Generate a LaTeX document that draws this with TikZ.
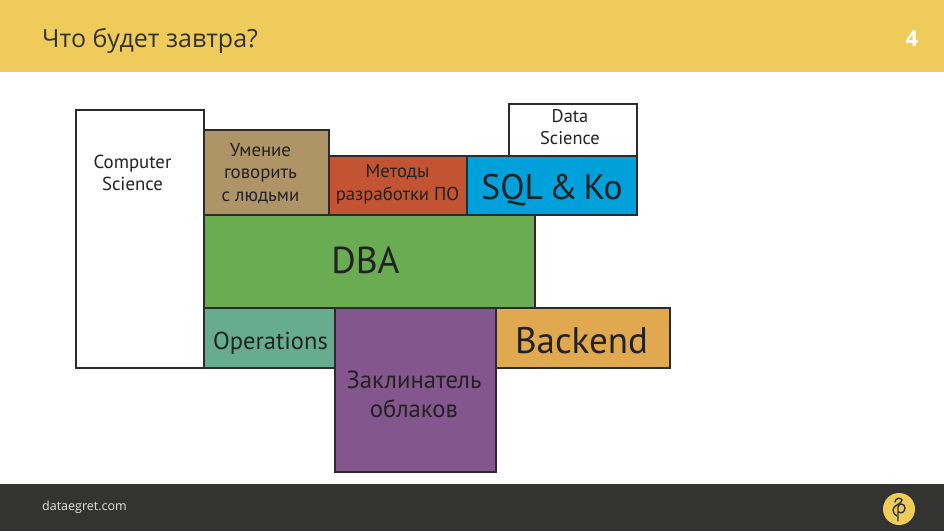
\documentclass[tikz,border=0pt]{standalone}
\usepackage{fontspec}
\setmainfont{Open Sans}
\newfontfamily\blockfont{PT Sans}
\usepackage{xcolor}
\definecolor{bandyellow}{HTML}{EFCB5B}
\definecolor{footdark}{HTML}{333331}
\definecolor{blockline}{HTML}{2B2B2B}
\definecolor{blocktext}{HTML}{222222}
\definecolor{talkbrown}{HTML}{AF9468}
\definecolor{methodred}{HTML}{C25434}
\definecolor{sqlblue}{HTML}{00A0DA}
\definecolor{dbagreen}{HTML}{6AAC52}
\definecolor{opsteal}{HTML}{66AD8F}
\definecolor{cloudpurple}{HTML}{83568E}
\definecolor{backorange}{HTML}{E0A84F}
\tikzset{
    block/.style = {
        draw = blockline,
        line width = 2.2pt,
        inner sep = 0pt,
    },
    blocklabel/.style = {
        text = blocktext,
        align = center,
        inner sep = 0pt,
        font = \blockfont,
    }
}

\begin{document}
\begin{tikzpicture}[x=1pt,y=-1pt]
    \useasboundingbox (0,0) rectangle (944,531);

    % header and footer bands
    \fill[bandyellow] (0,0) rectangle (944,72);
    \fill[footdark] (0,484) rectangle (944,531);
    \node[anchor=west,inner sep=0pt,text=footdark,font=\fontsize{25}{30}\selectfont] (Title) at (42,41) {Что будет завтра?};
    \node[inner sep=0pt,text=white,font=\fontsize{22}{26}\selectfont\bfseries] (PageNum) at (912,39) {4};
    \node[anchor=west,inner sep=0pt,text=white!90!black,font=\fontsize{12.5}{15}\selectfont] (Site) at (42,507) {dataegret.com};

    % logo
    \node[circle,fill=bandyellow,minimum size=32pt,inner sep=0pt] (Logo) at (899,509) {};
    \draw[footdark,line width=1.4pt,line cap=round] (898,521) -- (898,507) .. controls (898,503) and (905,503) .. (905,508) .. controls (905,512) and (901,514) .. (899,512);
    \draw[footdark,line width=1.4pt,line cap=round] (895,502) .. controls (895,498) and (901,497) .. (902,500) .. controls (902,504) and (893,505) .. (893,510) .. controls (893,513) and (895,515) .. (897,516);

    % blocks
    \node[block,fill=white,minimum width=128pt,minimum height=258pt] (CS) at (140,239) {};
    \node[block,fill=talkbrown,minimum width=125pt,minimum height=85pt] (Talk) at (266.5,172.5) {};
    \node[block,fill=methodred,minimum width=138pt,minimum height=59pt] (Methods) at (398,185.5) {};
    \node[block,fill=white,minimum width=128pt,minimum height=52pt] (DS) at (573,130) {};
    \node[block,fill=sqlblue,minimum width=170pt,minimum height=59pt] (SQL) at (552,185.5) {};
    \node[block,fill=dbagreen,minimum width=331pt,minimum height=93pt] (DBA) at (369.5,261.5) {};
    \node[block,fill=opsteal,minimum width=131pt,minimum height=60pt] (Ops) at (269.5,338) {};
    \node[block,fill=backorange,minimum width=174pt,minimum height=60pt] (Backend) at (583,338) {};
    \node[block,fill=cloudpurple,minimum width=161pt,minimum height=164pt] (Cloud) at (415.5,390) {};

    % block captions
    \node[blocklabel,font=\blockfont\fontsize{18.8}{21.5}\selectfont] (CSText) at (132.5,173) {Computer\\Science};
    \node[blocklabel,font=\blockfont\fontsize{18.8}{22.5}\selectfont] (TalkText) at (260.5,173.5) {Умение\\говорить\\с людьми};
    \node[blocklabel,font=\blockfont\fontsize{18.7}{23}\selectfont] (MethodsText) at (397.5,184.5) {Методы\\разработки ПО};
    \node[blocklabel,font=\blockfont\fontsize{18.4}{22}\selectfont] (DSText) at (570,127) {Data\\Science};
    \node[blocklabel,font=\blockfont\fontsize{35.5}{42}\selectfont] (SQLText) at (552,190) {SQL\,\&\,Ko};
    \node[blocklabel,font=\blockfont\fontsize{37.5}{44}\selectfont] (DBAText) at (365.5,260) {DBA};
    \node[blocklabel,font=\blockfont\fontsize{24.5}{29}\selectfont] (OpsText) at (270.5,343) {Operations};
    \node[blocklabel,font=\blockfont\fontsize{37}{44}\selectfont] (BackendText) at (581.5,341) {Backend};
    \node[blocklabel,font=\blockfont\fontsize{24.7}{29}\selectfont] (CloudText) at (414,394.5) {Заклинатель\\облаков};
\end{tikzpicture}
\end{document}
